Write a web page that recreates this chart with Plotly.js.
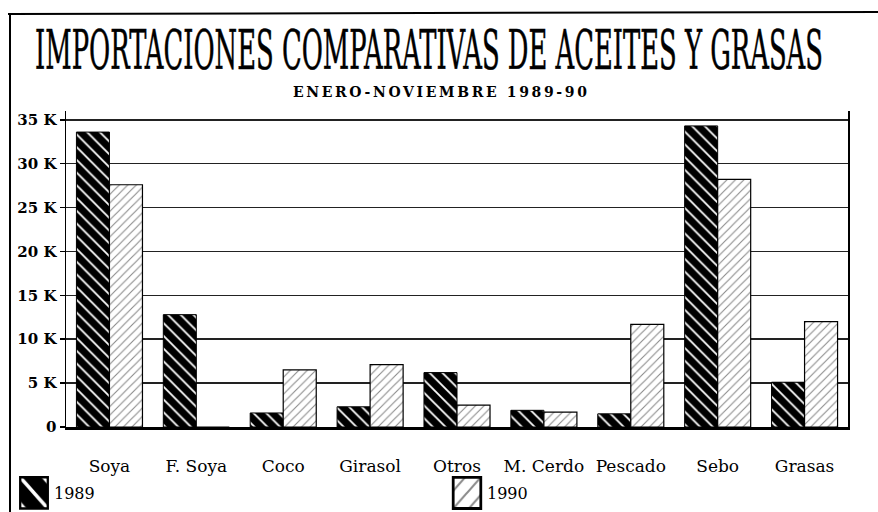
<!DOCTYPE html>
<html>
<head>
<meta charset="utf-8">
<script src="https://cdn.plot.ly/plotly-3.0.1.min.js"></script>
<style>
  html, body { margin: 0; padding: 0; background: #ffffff; }
  #chart { width: 878px; height: 512px; }
</style>
</head>
<body>
<div id="chart"></div>
<script>
// ---- data (values in tonnes) ----
const categories = ["Soya", "F. Soya", "Coco", "Girasol", "Otros", "M. Cerdo", "Pescado", "Sebo", "Grasas"];
const values1989 = [33600, 12800, 1600, 2300, 6200, 1900, 1500, 34300, 5100];
const values1990 = [27600, 0, 6500, 7100, 2500, 1700, 11700, 28200, 12000];
const seriesNames = ["1989", "1990"];
const tickValues = [0, 5000, 10000, 15000, 20000, 25000, 30000, 35000];
const tickLabels = ["0", "5 K", "10 K", "15 K", "20 K", "25 K", "30 K", "35 K"];
const titleText = "IMPORTACIONES COMPARATIVAS DE ACEITES Y GRASAS";
const subtitleText = "ENERO-NOVIEMBRE 1989-90";

const serif = "DejaVu Serif, Liberation Serif, serif";

const traces = [
  {
    type: "bar",
    name: seriesNames[0],
    x: categories,
    y: values1989,
    legend: "legend",
    showlegend: true,
    marker: {
      color: "#000000",
      line: { color: "#000000", width: 1 },
      pattern: { shape: "\\", fgcolor: "#ffffff", bgcolor: "#000000", size: 9, solidity: 0.2, fillmode: "replace" }
    },
    hoverinfo: "skip"
  },
  {
    type: "bar",
    name: seriesNames[1],
    x: categories,
    y: values1990,
    legend: "legend2",
    showlegend: true,
    marker: {
      color: "#ffffff",
      line: { color: "#000000", width: 1.2 },
      pattern: { shape: "/", fgcolor: "#8a8a8a", bgcolor: "#ffffff", size: 6, solidity: 0.18, fillmode: "replace" }
    },
    hoverinfo: "skip"
  }
];

const L = 66, R = 30, T = 111, B = 85;
const W = 878, H = 512;
const pw = W - L - R, ph = H - T - B;
const px = v => (v - L) / pw;
const py = v => (H - B - v) / ph;

const legendBase = {
  orientation: "h",
  xanchor: "left",
  yanchor: "middle",
  font: { family: serif, size: 16, color: "#000000" },
  bgcolor: "rgba(0,0,0,0)",
  borderwidth: 0
};

const layout = {
  width: W, height: H,
  showlegend: true,
  margin: { l: L, r: R, t: T, b: B, autoexpand: false },
  paper_bgcolor: "#ffffff",
  plot_bgcolor: "#ffffff",
  barmode: "group",
  bargap: 0.24,
  bargroupgap: 0,
  font: { family: serif, color: "#000000", size: 16 },
  title: {
    text: titleText,
    font: { family: "DejaVu Serif Condensed, DejaVu Serif, serif", size: 55, color: "#000000" },
    xref: "container", x: 429 / W, xanchor: "center",
    yref: "container", y: 1 - 50 / H, yanchor: "middle"
  },
  xaxis: {
    type: "category",
    automargin: false,
    showgrid: false,
    showline: true, linecolor: "#000000", linewidth: 2.5,
    ticks: "",
    ticklabelstandoff: 22,
    tickfont: { family: serif, size: 17, color: "#000000" },
    zeroline: false
  },
  yaxis: {
    automargin: false,
    range: [0, 36000],
    tickmode: "array",
    tickvals: tickValues,
    ticktext: tickLabels,
    tickfont: { family: serif, size: 15, color: "#000000", weight: "bold" },
    ticks: "outside", ticklen: 5, tickwidth: 1.5, tickcolor: "#000000",
    showline: true, linecolor: "#000000", linewidth: 1.5, mirror: true,
    showgrid: true, gridcolor: "#222222", gridwidth: 1.5,
    zeroline: false
  },
  legend: Object.assign({}, legendBase, { x: px(14), y: py(493) }),
  legend2: Object.assign({}, legendBase, { x: px(447), y: py(493) }),
  annotations: [
    {
      text: subtitleText,
      xref: "paper", yref: "paper",
      x: px(440), y: py(92), xanchor: "center", yanchor: "middle",
      showarrow: false,
      font: { family: serif, size: 14, color: "#000000", weight: "bold" }
    }
  ],
  shapes: [
    { type: "line", xref: "paper", yref: "paper", x0: px(10), x1: px(10), y0: py(14), y1: py(512), line: { color: "#000", width: 2 } },
    { type: "line", xref: "paper", yref: "paper", x0: px(8), x1: px(878), y0: py(14), y1: py(12), line: { color: "#000", width: 2 } }
  ]
};

Plotly.newPlot("chart", traces, layout, { staticPlot: true, displayModeBar: false }).then(gd => {
  const t = gd.querySelector(".gtitle");
  if (t) {
    const w = t.getComputedTextLength();
    const cx = parseFloat(t.getAttribute("x")) || 429;
    const sx = 788 / w;
    const tr = t.getAttribute("transform") || "";
    t.setAttribute("transform", tr + ` translate(${cx},0) scale(${sx},1) translate(${-cx},0)`);
    t.style.stroke = "#000";
    t.style.strokeWidth = "0.5px";
  }
  const a = gd.querySelector(".annotation-text");
  if (a) { a.setAttribute("textLength", "294"); a.setAttribute("lengthAdjust", "spacing"); }
  gd.querySelectorAll(".legendpoints path").forEach(p => {
    const tr = p.getAttribute("transform") || "";
    p.setAttribute("transform", tr + " scale(2.3,2.6)");
  });
});
</script>
</body>
</html>
